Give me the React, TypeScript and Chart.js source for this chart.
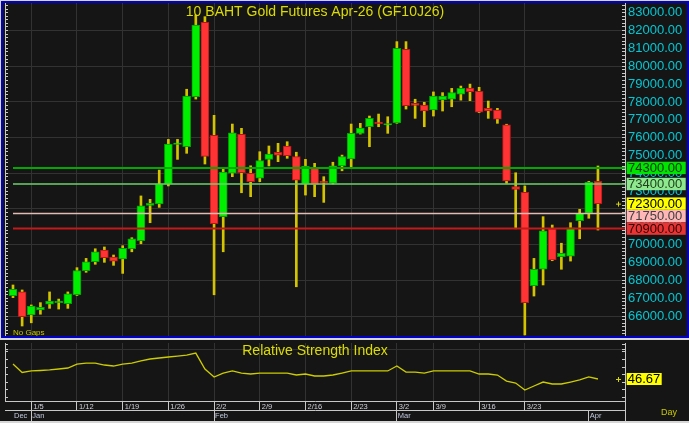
import React, { useEffect, useRef } from 'react';
import { Chart, registerables } from 'chart.js';

Chart.register(...registerables);

// ---------- data ----------
const DATES = [
  '12/29', '12/30',
  '1/5', '1/6', '1/7', '1/8', '1/9',
  '1/12', '1/13', '1/14', '1/15', '1/16',
  '1/19', '1/20', '1/21', '1/22', '1/23',
  '1/26', '1/27', '1/28', '1/29', '1/30',
  '2/2', '2/3', '2/4', '2/5', '2/6',
  '2/9', '2/10', '2/11', '2/12', '2/13',
  '2/16', '2/17', '2/18', '2/19', '2/20',
  '2/23', '2/24', '2/25', '2/26', '2/27',
  '3/2', '3/4', '3/5', '3/6',
  '3/9', '3/10', '3/11', '3/12', '3/13',
  '3/16', '3/17', '3/18', '3/19', '3/20',
  '3/23', '3/24', '3/25', '3/26', '3/27',
  '3/30', '3/31',
  '4/1', '4/2',
];

const OPEN = [
  67140, 67350, 66060, 66340, 66660, 66750, 66690, 67190, 68540, 69040,
  69700, 69310, 69200, 69770, 70220, 72200, 72280, 73400, 75620, 75490,
  78290, 82460, 76130, 71570, 74000, 76180, 74000, 73720, 74780, 75180,
  75530, 74930, 73400, 74280, 73570, 73440, 74410, 74800, 76240, 76610,
  76870, 76710, 76830, 80950, 77920, 77830, 77550, 78110, 78160, 78440,
  78780, 78590, 77640, 77550, 76710, 73250, 72930, 67700, 68620, 70890,
  69320, 69360, 71340, 71760, 73550,
];
const HIGH = [
  67740, 67460, 66620, 66750, 67350, 66950, 67350, 68710, 69230, 69770,
  69870, 69420, 69940, 70390, 72730, 72540, 74180, 75900, 75900, 78710,
  82870, 82780, 77250, 74280, 76760, 76520, 74420, 75210, 75530, 75680,
  75770, 75180, 74780, 74560, 73810, 74620, 75020, 76760, 76800, 77210,
  77320, 77170, 81380, 81380, 78150, 77980, 78560, 78520, 78760, 78890,
  79000, 78820, 78050, 77640, 76750, 74030, 73290, 69230, 71570, 71100,
  70080, 71230, 71980, 73550, 74410,
];
const LOW = [
  67030, 65440, 65620, 66100, 66430, 66390, 66430, 67150, 68450, 68900,
  69010, 68840, 68390, 69600, 70050, 71230, 72090, 73290, 74780, 75120,
  78160, 74520, 67190, 69600, 73810, 72910, 72690, 73530, 74410, 74650,
  74840, 67640, 72780, 72690, 72370, 73400, 74140, 74340, 76200, 75490,
  76610, 76240, 76800, 77600, 77080, 76610, 77210, 77490, 77730, 78100,
  78070, 77400, 77080, 76800, 73440, 70890, 64940, 67120, 67740, 69100,
  68620, 69080, 70330, 71480, 70820,
];
const CLOSE = [
  67500, 65960, 66560, 66490, 66840, 66840, 67250, 68540, 69040, 69600,
  69270, 69070, 69800, 70330, 72170, 72320, 73400, 75640, 75700, 78330,
  82310, 74950, 71170, 74070, 76270, 74030, 73530, 74710, 75080, 75020,
  74990, 73620, 74410, 73380, 73470, 74420, 74930, 76240, 76540, 77080,
  76780, 76780, 81000, 77790, 77810, 77490, 78330, 78330, 78520, 78760,
  78570, 77430, 77490, 77030, 73570, 73100, 66750, 68620, 70780, 69140,
  69510, 70950, 71760, 73510, 72300,
];
const RSI = [
  63.3, 53.9, 55.6, 56.1, 56.7, 57.8, 58.9, 63.3, 64.4, 64.4,
  62.2, 61.1, 63.3, 64.4, 66.7, 68.9, 70.0, 71.1, 72.2, 73.3,
  75.5, 57.8, 48.9, 53.3, 55.6, 53.3, 52.2, 53.3, 53.3, 53.3,
  53.3, 51.1, 52.2, 50.0, 50.0, 51.1, 53.3, 55.6, 55.6, 55.6,
  55.6, 55.6, 61.1, 54.4, 54.4, 53.3, 55.6, 55.6, 55.6, 55.6,
  55.6, 52.2, 52.2, 51.1, 44.4, 42.2, 34.4, 38.9, 43.3, 41.1,
  41.1, 43.3, 45.6, 48.9, 46.67,
];

const LEVELS = [74300, 73400, 71750, 70900];
const WEEK_LABELS = ['1/5', '1/12', '1/19', '1/26', '2/2', '2/9', '2/16', '2/23', '3/2', '3/9', '3/16', '3/23'];
const MONTH_LABELS = ['Dec', 'Jan', 'Feb', 'Mar', 'Apr'];
const PRICE_LABELS = [66000, 67000, 68000, 69000, 70000, 71000, 72000, 73000, 74000, 75000, 76000, 77000, 78000, 79000, 80000, 81000, 82000, 83000];
const RSI_RULER = [26, 34.5, 43, 51.5, 60, 68.5, 77, 80, 85.5];
const TITLE = '10 BAHT Gold Futures Apr-26 (GF10J26)';
const RSI_TITLE = 'Relative Strength Index';
const NO_GAPS = 'No Gaps';
const PERIOD_LABEL = 'Day';

// ---------- axis bounds & styles ----------
const X_MIN = -0.875;
const X_MAX = 66.96;
const Y_MIN = 64880;
const Y_MAX = 83545;
const RSI_MIN = 22.22;
const RSI_MAX = 86.67;

const BG = '#151515';
const GRID = '#323232';
const AXIS = '#c8c8c8';
const FONT = 'Arial, "Liberation Sans", sans-serif';
const LEVEL_LINE = ['#00a800', '#6cd06c', '#e2bcb4', '#c41a1a'];
const LEVEL_WIDTH = [2, 1.5, 1.5, 2];
const LEVEL_BG = ['#00e400', '#8ee88e', '#ffb6b6', '#e83434'];
const LEVEL_FG = ['#103010', '#204020', '#404040', '#300000'];

const WEEK_IDX = WEEK_LABELS.map((l) => DATES.indexOf(l));
const MONTH_IDX: number[] = [];
DATES.forEach((d, i) => {
  if (i === 0 || d.split('/')[0] !== DATES[i - 1].split('/')[0]) MONTH_IDX.push(i);
});
const PRICE_RULER: number[] = [];
for (let v = 65000; v <= 83400; v += 200) PRICE_RULER.push(v);

const zeroPad = (s: any) => {
  s.paddingTop = 0;
  s.paddingBottom = 0;
  s.paddingLeft = 0;
  s.paddingRight = 0;
};

export default function App() {
  const mainRef = useRef<HTMLCanvasElement>(null);
  const rsiRef = useRef<HTMLCanvasElement>(null);

  useEffect(() => {
    const isUp = (i: number) => CLOSE[i] >= OPEN[i];
    const wicks = DATES.map((_, i) => ({ x: i, y: [LOW[i], HIGH[i]] }));
    const bodies = DATES.map((_, i) => ({ x: i, y: [OPEN[i], CLOSE[i]] }));

    const mainDeco = {
      id: 'mainDeco',
      afterDraw(chart: any) {
        const { ctx, chartArea, scales } = chart;
        const y = scales.y;
        ctx.save();
        ctx.font = `14px ${FONT}`;
        ctx.fillStyle = '#dcdc00';
        ctx.textAlign = 'center';
        ctx.textBaseline = 'alphabetic';
        ctx.fillText(TITLE, (chartArea.left + chartArea.right) / 2, chartArea.top + 12.7);

        ctx.font = `8px ${FONT}`;
        ctx.textAlign = 'left';
        ctx.fillStyle = '#c8c800';
        ctx.fillText(NO_GAPS, chartArea.left + 8, chartArea.bottom - 1.5);

        const last = CLOSE[CLOSE.length - 1];
        const items = [
          ...LEVELS.map((v, k) => ({ v, bg: LEVEL_BG[k], fg: LEVEL_FG[k], py: y.getPixelForValue(v) })),
          { v: last, bg: '#ffff00', fg: '#000000', py: y.getPixelForValue(last) },
        ].sort((a, b) => a.py - b.py);
        let prev = -Infinity;
        for (const it of items) {
          if (it.py < prev + 12.5) it.py = prev + 12.5;
          prev = it.py;
        }
        ctx.font = `13px ${FONT}`;
        ctx.textBaseline = 'middle';
        for (const it of items) {
          ctx.fillStyle = it.bg;
          ctx.fillRect(chartArea.right + 1.7, it.py - 6.2, 59, 12.4);
          ctx.fillStyle = it.fg;
          ctx.fillText(it.v.toFixed(2), chartArea.right + 3, it.py + 0.5);
        }
        const pc = y.getPixelForValue(last);
        ctx.strokeStyle = '#d8d800';
        ctx.lineWidth = 1;
        ctx.beginPath();
        ctx.moveTo(chartArea.right - 9, pc + 0.5);
        ctx.lineTo(chartArea.right - 4, pc + 0.5);
        ctx.moveTo(chartArea.right - 6.5, pc - 2);
        ctx.lineTo(chartArea.right - 6.5, pc + 3);
        ctx.stroke();
        ctx.restore();
      },
    };

    const main = new Chart(mainRef.current as HTMLCanvasElement, {
      type: 'bar',
      data: {
        datasets: [
          ...LEVELS.map((lvl, k) => ({
            type: 'line' as const,
            data: [
              { x: 0, y: lvl },
              { x: X_MAX, y: lvl },
            ],
            borderColor: LEVEL_LINE[k],
            borderWidth: LEVEL_WIDTH[k],
            pointRadius: 0,
            order: -1,
            xAxisID: 'x',
            yAxisID: 'y',
          })),
          {
            type: 'bar' as const,
            data: bodies as any,
            backgroundColor: DATES.map((_, i) => (isUp(i) ? '#00ee00' : '#ff3333')),
            borderColor: DATES.map((_, i) => (isUp(i) ? '#00a000' : '#b81818')),
            borderWidth: 1,
            borderSkipped: false,
            barThickness: 8,
            grouped: false,
            order: 0,
            xAxisID: 'x',
            yAxisID: 'y',
          },
          {
            type: 'bar' as const,
            data: wicks as any,
            backgroundColor: '#d4c400',
            borderWidth: 0,
            barThickness: 2,
            grouped: false,
            order: 1,
            xAxisID: 'x',
            yAxisID: 'y',
          },
        ],
      } as any,
      plugins: [mainDeco],
      options: {
        animation: false,
        responsive: false,
        devicePixelRatio: 1,
        events: [],
        layout: { padding: 0 },
        plugins: { legend: { display: false }, tooltip: { enabled: false } },
        scales: {
          x: {
            type: 'linear',
            position: 'bottom',
            offset: false,
            min: X_MIN,
            max: X_MAX,
            afterBuildTicks: (s: any) => {
              s.ticks = WEEK_IDX.map((v) => ({ value: v }));
            },
            afterFit: (s: any) => {
              s.height = 0;
              zeroPad(s);
            },
            ticks: { display: false },
            grid: { color: GRID, drawTicks: false, offset: false },
            border: { display: false },
          },
          y: {
            type: 'linear',
            position: 'right',
            min: Y_MIN,
            max: Y_MAX,
            afterBuildTicks: (s: any) => {
              s.ticks = PRICE_RULER.map((v) => ({ value: v }));
            },
            afterFit: (s: any) => {
              s.width = 62;
              zeroPad(s);
            },
            ticks: {
              autoSkip: false,
              color: '#00c8d4',
              font: { family: FONT, size: 13 },
              padding: 6,
              callback: (v: any) => (PRICE_LABELS.includes(v) ? Number(v).toFixed(2) : ''),
            },
            grid: {
              color: (c: any) => (c.tick && c.tick.value % 2000 === 0 ? GRID : 'rgba(0,0,0,0)'),
              tickColor: AXIS,
              tickLength: -3,
              drawTicks: true,
            },
            border: { display: true, color: AXIS, width: 1 },
          },
          yl: {
            type: 'linear',
            position: 'left',
            min: Y_MIN,
            max: Y_MAX,
            afterBuildTicks: (s: any) => {
              s.ticks = PRICE_RULER.map((v) => ({ value: v }));
            },
            afterFit: (s: any) => {
              s.width = 2;
              zeroPad(s);
            },
            ticks: { display: false },
            grid: { drawOnChartArea: false, tickColor: AXIS, tickLength: -3 },
            border: { display: true, color: AXIS, width: 1 },
          },
        },
      } as any,
    });

    const rsiDeco = {
      id: 'rsiDeco',
      afterDraw(chart: any) {
        const { ctx, chartArea, scales, height } = chart;
        ctx.save();
        ctx.font = `14px ${FONT}`;
        ctx.fillStyle = '#dcdc00';
        ctx.textAlign = 'center';
        ctx.textBaseline = 'alphabetic';
        ctx.fillText(RSI_TITLE, (chartArea.left + chartArea.right) / 2, chartArea.top + 12);

        const lastV = RSI[RSI.length - 1];
        const py = scales.y.getPixelForValue(lastV);
        ctx.fillStyle = '#ffff00';
        ctx.fillRect(chartArea.right + 1.7, py - 6, 35, 12);
        ctx.fillStyle = '#000000';
        ctx.font = `13px ${FONT}`;
        ctx.textAlign = 'left';
        ctx.textBaseline = 'middle';
        ctx.fillText(lastV.toFixed(2), chartArea.right + 2.7, py + 0.5);

        ctx.strokeStyle = '#d8d800';
        ctx.lineWidth = 1;
        ctx.beginPath();
        ctx.moveTo(chartArea.right - 9, py + 0.5);
        ctx.lineTo(chartArea.right - 4, py + 0.5);
        ctx.moveTo(chartArea.right - 6.5, py - 2);
        ctx.lineTo(chartArea.right - 6.5, py + 3);
        ctx.stroke();

        ctx.font = `9px ${FONT}`;
        ctx.fillStyle = '#c8c800';
        ctx.textBaseline = 'alphabetic';
        ctx.fillText(PERIOD_LABEL, chartArea.right + 36, chartArea.bottom + 14);

        ctx.strokeStyle = AXIS;
        ctx.beginPath();
        ctx.moveTo(Math.round(chartArea.right) + 0.5, chartArea.bottom);
        ctx.lineTo(Math.round(chartArea.right) + 0.5, height);
        ctx.stroke();
        ctx.restore();
      },
    };

    const rsi = new Chart(rsiRef.current as HTMLCanvasElement, {
      type: 'line',
      data: {
        datasets: [
          {
            data: RSI.map((v, i) => ({ x: i, y: v })),
            borderColor: '#cccc00',
            borderWidth: 1.3,
            pointRadius: 0,
            tension: 0,
            xAxisID: 'x',
            yAxisID: 'y',
          },
        ],
      },
      plugins: [rsiDeco],
      options: {
        animation: false,
        responsive: false,
        devicePixelRatio: 1,
        events: [],
        layout: { padding: { top: 3, left: 0, right: 0, bottom: 0 } },
        plugins: { legend: { display: false }, tooltip: { enabled: false } },
        scales: {
          x: {
            type: 'linear',
            position: 'bottom',
            weight: 0,
            offset: false,
            min: X_MIN,
            max: X_MAX,
            afterBuildTicks: (s: any) => {
              s.ticks = WEEK_IDX.map((v) => ({ value: v }));
            },
            afterFit: (s: any) => {
              s.height = 9;
              zeroPad(s);
            },
            ticks: {
              autoSkip: false,
              maxRotation: 0,
              minRotation: 0,
              align: 'start',
              labelOffset: 2,
              padding: -7.5,
              color: '#d0d0d8',
              font: { family: FONT, size: 7.5 },
              callback: (v: any) => DATES[v],
            },
            grid: { color: GRID, tickColor: AXIS, tickLength: 9, offset: false },
            border: { display: true, color: AXIS, width: 1 },
          },
          xm: {
            type: 'linear',
            position: 'bottom',
            weight: 1,
            offset: false,
            min: X_MIN,
            max: X_MAX,
            afterBuildTicks: (s: any) => {
              s.ticks = MONTH_IDX.map((v) => ({ value: v }));
            },
            afterFit: (s: any) => {
              s.height = 11;
              zeroPad(s);
            },
            ticks: {
              autoSkip: false,
              maxRotation: 0,
              minRotation: 0,
              align: 'start',
              labelOffset: 1,
              padding: -10,
              color: '#c0c8dc',
              font: { family: FONT, size: 7.5 },
              callback: (v: any) => MONTH_LABELS[MONTH_IDX.indexOf(v)],
            },
            grid: {
              drawOnChartArea: false,
              offset: false,
              tickColor: (c: any) => (c.index === 0 ? 'rgba(0,0,0,0)' : AXIS),
              tickLength: 11,
            },
            border: { display: true, color: AXIS, width: 1 },
          },
          y: {
            type: 'linear',
            position: 'right',
            min: RSI_MIN,
            max: RSI_MAX,
            afterBuildTicks: (s: any) => {
              s.ticks = RSI_RULER.map((v) => ({ value: v }));
            },
            afterFit: (s: any) => {
              s.width = 64;
              zeroPad(s);
            },
            ticks: { display: false },
            grid: {
              color: (c: any) => (c.tick && c.tick.value === 80 ? GRID : 'rgba(0,0,0,0)'),
              tickColor: AXIS,
              tickLength: -3,
            },
            border: { display: true, color: AXIS, width: 1 },
          },
          yl: {
            type: 'linear',
            position: 'left',
            min: RSI_MIN,
            max: RSI_MAX,
            afterBuildTicks: (s: any) => {
              s.ticks = RSI_RULER.map((v) => ({ value: v }));
            },
            afterFit: (s: any) => {
              s.width = 5;
              zeroPad(s);
            },
            ticks: { display: false },
            grid: { drawOnChartArea: false, tickColor: AXIS, tickLength: -3 },
            border: { display: true, color: AXIS, width: 1 },
          },
        },
      } as any,
    });

    return () => {
      main.destroy();
      rsi.destroy();
    };
  }, []);

  return (
    <div
      style={{
        position: 'fixed',
        left: 0,
        top: 0,
        width: 689,
        height: 423,
        background: '#d6d6d6',
        overflow: 'hidden',
      }}
    >
      <div
        style={{
          position: 'absolute',
          left: 1,
          top: 1,
          width: 688,
          height: 337,
          boxSizing: 'border-box',
          border: '2px solid #0000c8',
          background: BG,
        }}
      >
        <canvas ref={mainRef} width={684} height={333} style={{ display: 'block', width: 684, height: 333 }} />
      </div>
      <div
        style={{
          position: 'absolute',
          left: 0,
          top: 340,
          width: 689,
          height: 81,
          background: BG,
        }}
      >
        <canvas ref={rsiRef} width={689} height={81} style={{ display: 'block', width: 689, height: 81 }} />
      </div>
    </div>
  );
}
